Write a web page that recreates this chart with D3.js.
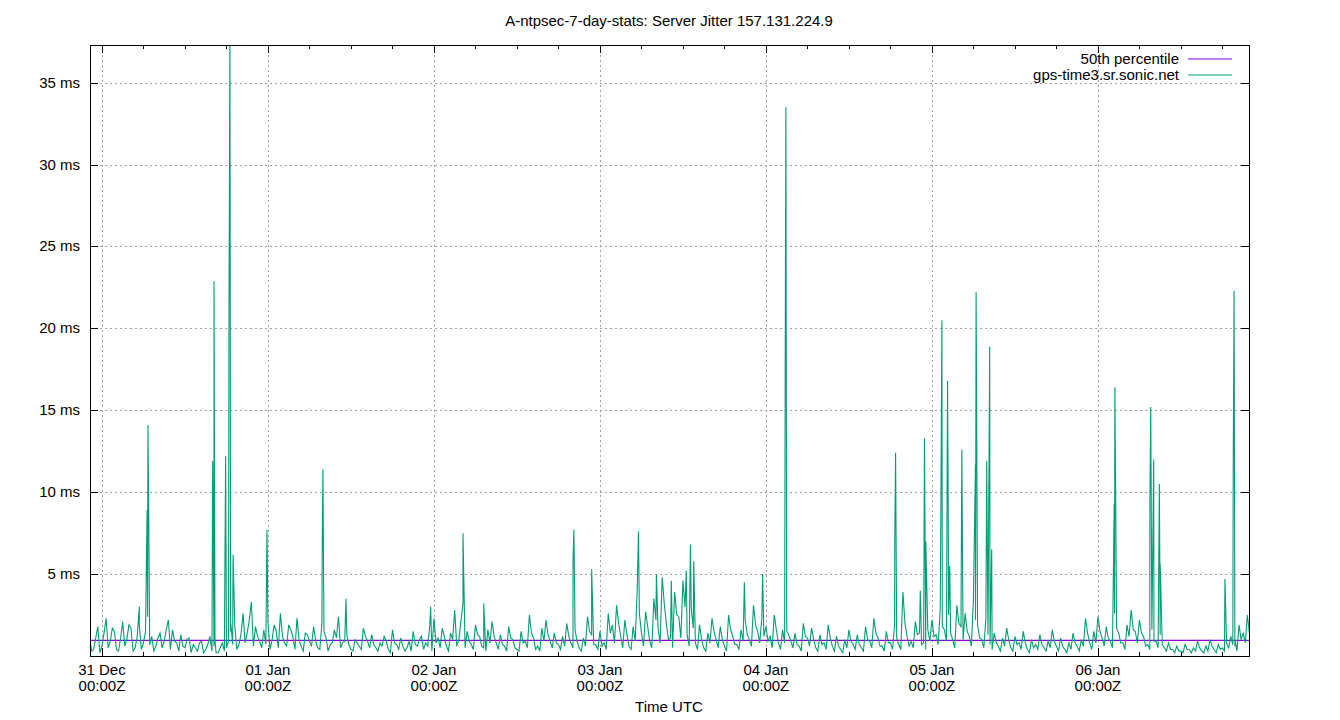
<!DOCTYPE html>
<html><head><meta charset="utf-8">
<script src="https://cdn.jsdelivr.net/npm/d3@7"></script>
<style>body{margin:0;background:#fff}text{font-family:"Liberation Sans",Arial,sans-serif}</style>
</head><body>
<script>
// Jitter samples (ms), one every 0.025 day starting at -0.075 day from 31 Dec 00:00Z
const baseStart = -0.075, baseStep = 0.025;
const baseJitter = [
  1.2,0.4,1.8,0.6,2.3,0.9,1.5,0.3,2.1,1.0,1.7,0.5,1.9,0.8,2.4,1.2,0.6,1.4,0.9,2.2,1.6,0.8,1.3,0.5,1.1,0.7,0.3,0.9,0.4,1.2,0.6,0.2,0.8,0.5,1.5,1.9,0.7,2.6,1.4,3.3,1.8,0.9,1.6,
  2.1,1.0,1.5,2.6,0.8,1.9,1.2,2.3,0.6,1.4,0.9,1.8,0.5,2.0,1.1,0.7,1.6,2.4,0.8,1.3,0.4,1.0,0.6,1.7,0.9,1.3,0.5,0.8,1.2,0.4,1.6,0.7,1.1,0.3,0.9,1.5,0.6,1.2,0.8,1.9,
  2.3,1.1,1.7,0.6,1.4,2.8,1.0,3.2,1.5,0.7,1.9,1.2,0.5,1.6,2.1,0.8,1.3,0.6,1.8,1.0,0.4,1.5,0.9,2.5,1.1,0.6,1.7,2.2,0.9,1.4,0.7,1.2,2.0,0.8,1.6,0.5,1.1,2.4,1.3,0.7,
  1.5,0.8,2.6,1.9,3.1,1.2,2.2,0.6,1.8,4.2,1.4,2.7,0.9,3.5,1.7,4.8,2.0,1.1,3.9,2.4,4.6,1.3,2.9,0.8,1.9,0.5,1.4,2.3,1.0,1.8,0.6,2.5,1.2,0.7,1.6,2.2,1.0,3.1,1.5,2.3,
  1.8,1.2,2.5,0.8,1.6,2.2,0.9,1.4,0.6,2.0,1.1,1.7,0.5,1.3,0.8,1.9,0.6,1.2,0.4,1.0,1.6,0.7,1.3,0.5,1.8,0.9,2.3,1.1,0.6,1.5,0.8,1.9,0.7,3.9,1.2,0.9,2.1,1.4,0.8,1.6,
  2.2,1.3,2.9,1.6,2.5,1.0,3.1,1.8,2.6,1.2,3.5,1.9,1.0,2.3,0.7,1.4,0.6,1.1,1.7,0.5,1.2,0.8,1.5,0.4,1.0,0.7,1.3,0.5,0.9,1.6,0.6,1.1,0.4,0.8,1.4,0.6,1.0,2.3,0.8,1.5,
  2.4,1.1,1.8,0.9,2.6,1.4,0.8,1.9,2.8,1.5,2.2,1.2,0.7,1.6,0.9,1.3,0.5,0.8,0.4,0.6,0.3,0.7,0.4,0.5,0.9,0.3,0.6,1.0,0.4,0.7,0.5,0.8,1.2,0.6,1.9,1.4,2.5
];
// In-between samples, offset by half a step
const midJitter = [
  0.3,1.1,0.2,1.4,0.5,1.7,0.4,1.1,0.6,1.9,0.3,1.2,0.4,1.5,0.7,0.3,1.1,0.5,1.6,0.4,0.9,0.3,0.6,1.0,0.2,0.5,0.8,0.2,0.7,0.3,0.2,0.5,0.3,0.9,0.7,0.4,1.3,0.8,2.2,0.6,1.2,0.5,
  0.7,0.4,1.9,0.5,1.2,0.6,1.6,0.4,1.0,0.3,1.3,0.6,0.9,0.4,1.5,0.3,0.8,1.1,0.5,0.9,0.7,0.3,0.8,0.4,1.2,0.5,0.7,0.3,0.6,0.9,0.2,0.8,0.4,0.6,0.5,0.3,0.7,1.0,0.4,0.6,0.3,
  0.8,0.5,1.2,0.3,1.0,0.6,2.1,0.5,0.9,0.4,1.3,0.6,0.3,0.8,1.2,0.4,0.7,0.3,1.1,0.5,0.3,0.8,0.5,1.4,0.4,0.3,0.9,1.3,0.5,0.8,0.4,0.6,1.2,0.5,0.9,0.3,0.6,1.5,0.7,0.4,
  0.6,0.4,1.4,0.8,2.0,0.5,1.3,0.4,0.9,2.6,0.6,1.8,0.5,2.2,0.8,3.2,1.0,0.5,2.5,1.1,3.0,0.6,1.7,0.4,1.0,0.3,0.8,1.5,0.5,1.0,0.3,1.6,0.7,0.4,0.9,1.3,0.6,1.9,0.8,1.2,
  0.9,0.5,1.6,0.4,0.8,1.3,0.5,0.7,0.3,1.2,0.6,1.0,0.3,0.7,0.4,1.1,0.3,0.6,0.2,0.5,0.9,0.4,0.7,0.3,1.0,0.5,1.4,0.6,0.3,0.8,0.4,1.1,0.4,2.0,0.6,0.5,1.3,0.7,0.4,0.9,
  1.2,0.7,1.8,0.9,1.4,0.5,2.0,1.0,1.5,0.6,2.2,1.1,0.5,1.3,0.4,0.8,0.3,0.6,1.0,0.3,0.7,0.4,0.8,0.2,0.5,0.4,0.7,0.3,0.5,0.9,0.3,0.6,0.2,0.4,0.8,0.3,0.6,1.4,0.4,0.8,
  1.5,0.6,1.1,0.5,1.7,0.8,0.4,1.2,1.6,0.8,1.4,0.6,0.4,0.9,0.5,0.7,0.3,0.4,0.2,0.3,0.2,0.4,0.2,0.3,0.5,0.2,0.3,0.6,0.2,0.4,0.3,0.5,0.7,0.3,1.0,0.8,1.4
];
// Spikes: [day offset, jitter ms]
const spikes = [
  [0.225,3.0],[0.272,8.9],[0.277,14.1],[0.282,8.6],[0.667,11.9],[0.675,22.9],[0.681,1.0],
  [0.745,12.2],[0.765,19.6],[0.771,38.0],[0.776,2.0],[0.790,6.2],[0.994,7.7],
  [1.327,6.6],[1.331,11.4],[1.47,3.5],[1.98,3.0],[2.175,7.5],[2.30,3.2],
  [2.838,5.9],[2.843,7.7],[2.95,5.3],[3.232,7.6],[3.34,5.0],[3.43,4.6],[3.52,5.2],[3.545,6.8],[3.565,5.8],
  [3.87,4.5],[3.98,5.0],[4.116,17.5],[4.120,33.5],[4.126,1.5],
  [4.776,7.1],[4.781,12.4],[4.93,4.0],[4.955,13.3],[4.963,7.0],[5.055,11.0],[5.060,20.5],
  [5.094,16.8],[5.098,9.3],[5.107,5.5],[5.18,12.6],[5.262,11.7],[5.266,22.2],[5.330,11.9],[5.348,18.9],[5.360,6.5],
  [6.098,9.3],[6.102,16.4],[6.313,9.3],[6.318,15.2],[6.336,12.0],[6.37,10.5],[6.375,5.6],
  [6.765,4.7],[6.815,11.8],[6.820,22.3],[6.826,1.0],[6.915,3.9]
];
const percentile50 = 0.95;
const dayLabels = ["31 Dec","01 Jan","02 Jan","03 Jan","04 Jan","05 Jan","06 Jan"];
const yTicks = [5,10,15,20,25,30,35];

const W = 1340, H = 720;
const m = {l: 90, r: 1249, t: 45, b: 656};
const svg = d3.select("body").append("svg").attr("width", W).attr("height", H);

const x = d3.scaleLinear().domain([-0.072, 6.91]).range([m.l, m.r]);
const y = d3.scaleLinear().domain([0, 37.3]).range([m.b, m.t]);

const series = baseJitter.map((v, i) => [baseStart + i * baseStep, v])
  .concat(midJitter.map((v, i) => [baseStart + (i + 0.5) * baseStep, v]))
  .concat(spikes).sort((a, b) => a[0] - b[0]);

// Grid
const grid = svg.append("g").attr("stroke", "#a0a0a0").attr("stroke-dasharray", "2,3").attr("stroke-width", 1);
yTicks.forEach(t => grid.append("line").attr("x1", m.l).attr("x2", m.r).attr("y1", Math.round(y(t)) + .5).attr("y2", Math.round(y(t)) + .5));
dayLabels.forEach((d, i) => grid.append("line").attr("y1", m.t).attr("y2", m.b).attr("x1", Math.round(x(i)) + .5).attr("x2", Math.round(x(i)) + .5));

// Ticks
const ticks = svg.append("g").attr("stroke", "#000");
yTicks.forEach(t => {
  const yy = Math.round(y(t)) + .5;
  ticks.append("line").attr("x1", m.l).attr("x2", m.l + 8).attr("y1", yy).attr("y2", yy);
  ticks.append("line").attr("x1", m.r - 8).attr("x2", m.r).attr("y1", yy).attr("y2", yy);
});
for (let q = 0; q <= 28; q++) {
  const d = q / 4;
  if (x(d) > m.r) break;
  const xx = Math.round(x(d)) + .5, len = q % 4 === 0 ? 8 : 4;
  ticks.append("line").attr("x1", xx).attr("x2", xx).attr("y1", m.b).attr("y2", m.b - len);
  ticks.append("line").attr("x1", xx).attr("x2", xx).attr("y1", m.t).attr("y2", m.t + len);
}

// Percentile line and data
svg.append("line").attr("x1", m.l).attr("x2", m.r).attr("y1", y(percentile50)).attr("y2", y(percentile50))
  .attr("stroke", "#9400d3").attr("stroke-width", 1.2);
svg.append("defs").append("clipPath").attr("id", "clip").append("rect")
  .attr("x", m.l).attr("y", m.t).attr("width", m.r - m.l).attr("height", m.b - m.t);
svg.append("path").datum(series).attr("clip-path", "url(#clip)")
  .attr("fill", "none").attr("stroke", "#009e73").attr("stroke-width", 1.1)
  .attr("d", d3.line().x(d => x(d[0])).y(d => y(d[1])));

// Border
svg.append("rect").attr("x", m.l + .5).attr("y", m.t + .5).attr("width", m.r - m.l).attr("height", m.b - m.t)
  .attr("fill", "none").attr("stroke", "#000");

// Labels
const fs = 15;
yTicks.forEach(t => svg.append("text").attr("x", 80).attr("y", y(t) + 5).attr("text-anchor", "end")
  .attr("font-size", fs).text(`${t} ms`));
dayLabels.forEach((d, i) => {
  svg.append("text").attr("x", x(i)).attr("y", 675).attr("text-anchor", "middle").attr("font-size", fs).text(d);
  svg.append("text").attr("x", x(i)).attr("y", 691).attr("text-anchor", "middle").attr("font-size", fs).text("00:00Z");
});
svg.append("text").attr("x", 669).attr("y", 712).attr("text-anchor", "middle").attr("font-size", fs).text("Time UTC");
svg.append("text").attr("x", 669).attr("y", 26).attr("text-anchor", "middle").attr("font-size", fs)
  .text("A-ntpsec-7-day-stats: Server Jitter 157.131.224.9");

// Legend
[["50th percentile", "#9400d3"], ["gps-time3.sr.sonic.net", "#009e73"]].forEach(([name, c], i) => {
  const ly = 59 + i * 16;
  svg.append("text").attr("x", 1179).attr("y", ly + 5).attr("text-anchor", "end").attr("font-size", fs).text(name);
  svg.append("line").attr("x1", 1188).attr("x2", 1232).attr("y1", ly).attr("y2", ly).attr("stroke", c).attr("stroke-width", 1.2);
});
</script>
</body></html>
